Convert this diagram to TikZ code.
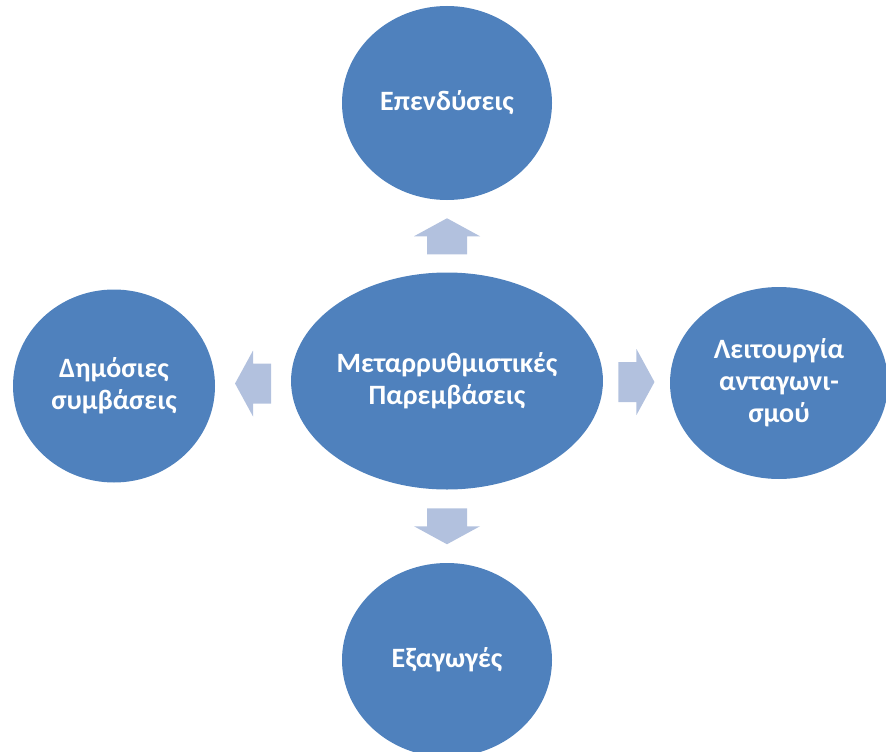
\documentclass[tikz,border=0pt]{standalone}
\usepackage{fontspec}
\setmainfont{Carlito}
\usetikzlibrary{shapes.geometric, calc}
\definecolor{bubbleblue}{RGB}{79,129,189}
\definecolor{arrowblue}{RGB}{178,193,222}

\begin{document}
\begin{tikzpicture}[x=1pt, y=-1pt,
        every node/.style={font=\fontsize{28}{32}\selectfont\bfseries, text=white, align=center},
        bubble/.style={ellipse, fill=bubbleblue, inner sep=0pt},
        blockarrow/.pic={\fill[arrowblue] (-18,-20) -- (0,-20) -- (0,-33) -- (18,0) -- (0,33) -- (0,20) -- (-18,20) -- cycle;}]
        \useasboundingbox (0,0) rectangle (886,752);
        \clip (0,0) rectangle (886,752);

        % Central ellipse
        \node[bubble, minimum width=311pt, minimum height=217pt] (hub) at (447,381) {Μεταρρυθμιστικές\\Παρεμβάσεις};

        % Outer circles
        \node[bubble, minimum width=210pt, minimum height=194pt] (invest) at (447,103) {Επενδύσεις};
        \node[bubble, minimum width=202pt, minimum height=193pt] (tenders) at (114,386) {Δημόσιες\\συμβάσεις};
        \node[bubble, minimum width=218pt, minimum height=192pt] (compet) at (779,383) {Λειτουργία\\ανταγωνι-\\σμού};
        \node[bubble, minimum width=210pt, minimum height=194pt] (exports) at (447,660) {Εξαγωγές};

        % Block arrows
        \pic[rotate=90] at ($(hub.north)!.5!(invest.south)$) {blockarrow};
        \pic[rotate=180] at ($(hub.west)!.5!(tenders.east)$) {blockarrow};
        \pic at ($(hub.east)!.5!(compet.west)$) {blockarrow};
        \pic[rotate=-90] at ($(hub.south)!.5!(exports.north)$) {blockarrow};
\end{tikzpicture}
\end{document}
